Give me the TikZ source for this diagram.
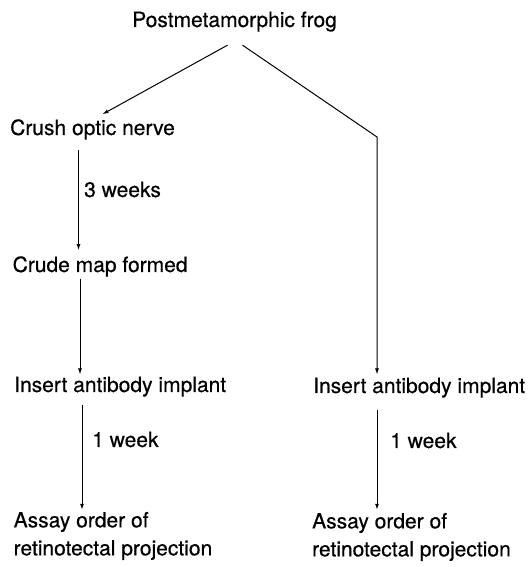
\documentclass[tikz,border=0pt]{standalone}
\usepackage{fontspec}
\setmainfont{TeX Gyre Heros}[FakeBold=0.5]
\usetikzlibrary{arrows.meta,positioning}

\begin{document}
\begin{tikzpicture}[x=1pt,y=1pt]
        \tikzstyle{lbl} = [inner sep=0pt,font=\fontsize{21}{28}\selectfont]
        \tikzstyle{flow} = [-{Latex[length=6pt,width=4pt]},line width=1pt]
        \useasboundingbox (0,0) rectangle (529,567);

        % start
        \node[lbl,anchor=base west] (frog) at (132,540) {Postmetamorphic frog};

        % left branch
        \node[lbl,anchor=base west] (crush) at (10,432) {Crush optic nerve};
        \node[lbl,anchor=base west] (w3) at (84,370) {3 weeks};
        \node[lbl,anchor=base west] (crude) at (12.5,295) {Crude map formed};
        \node[lbl,anchor=base west] (ins1) at (14,175) {Insert antibody implant};
        \node[lbl,anchor=base west] (w1a) at (92,120) {1 week};
        \node[lbl,anchor=north west,align=left] (assay1) at (13.5,55.2) {Assay order of\\retinotectal projection};

        % right branch
        \node[lbl,anchor=base west] (ins2) at (313,174) {Insert antibody implant};
        \node[lbl,anchor=base west] (w1b) at (390,119) {1 week};
        \node[lbl,anchor=north west,align=left] (assay2) at (312,54.2) {Assay order of\\retinotectal projection};

        % columns of the vertical arrows
        \coordinate (colA) at (78.5,0);
        \coordinate (colB) at (80,0);
        \coordinate (colC) at (82,0);
        \coordinate (bend) at (377,430);

        % links
        \draw[flow] ([xshift=-7pt,yshift=-13.4pt]frog.south) -- ([xshift=10pt,yshift=4.9pt]crush.north);
        \draw[flow] ([xshift=8pt,yshift=-13.4pt]frog.south) -- (bend) -- ([yshift=3pt]ins2.north -| bend);
        \draw[flow,shorten <=10pt,shorten >=6pt] (crush.south -| colA) -- (crude.north -| colA);
        \draw[flow,shorten <=2pt,shorten >=2pt] (crude.south -| colB) -- (ins1.north -| colB);
        \draw[flow,shorten <=8.6pt,shorten >=2pt] (ins1.south -| colC) -- (assay1.north -| colC);
        \draw[flow,shorten <=12.6pt,shorten >=3pt] (ins2.south -| bend) -- (assay2.north -| bend);
\end{tikzpicture}
\end{document}
